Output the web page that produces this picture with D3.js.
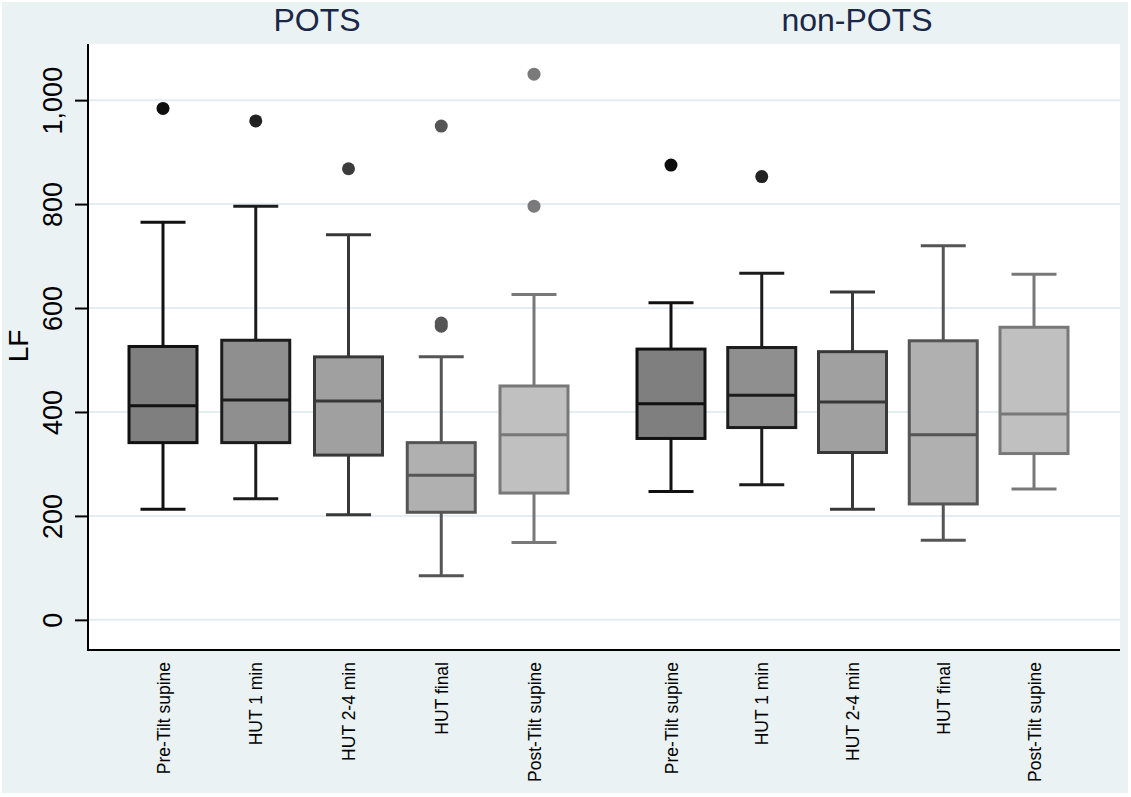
<!DOCTYPE html>
<html><head><meta charset="utf-8">
<script src="https://cdn.jsdelivr.net/npm/d3@7"></script>
<style>body{margin:0;background:#fff}svg{display:block}text{font-family:"Liberation Sans",Arial,sans-serif}</style>
</head><body><svg id="c" width="1131" height="797"></svg>
<script>
const groups = ["POTS", "non-POTS"];
const categories = ["Pre-Tilt supine", "HUT 1 min", "HUT 2-4 min", "HUT final", "Post-Tilt supine"];
// per group: [lower whisker, q1, median, q3, upper whisker]
const potsStats = [
  [213, 341, 412, 526, 765],
  [233, 341, 423, 538, 796],
  [202, 317, 421, 506, 741],
  [85, 207, 278, 341, 506],
  [149, 244, 356, 450, 626]
];
const nonPotsStats = [
  [247, 349, 416, 521, 610],
  [260, 370, 432, 524, 667],
  [213, 322, 419, 516, 631],
  [153, 223, 356, 537, 720],
  [252, 320, 396, 563, 665]
];
const potsOutliers = [[984], [960], [868], [950, 565, 571], [1050, 796]];
const nonPotsOutliers = [[875], [853], [], [], []];
const yTicks = [0, 200, 400, 600, 800, 1000];
const yLabel = "LF";

const fills = ["#7f7f7f", "#8f8f8f", "#a0a0a0", "#b0b0b0", "#c0c0c0"];
const strokes = ["#111111", "#1c1c1c", "#383838", "#555555", "#787878"];
const dotFill = ["#0d0d0d", "#222222", "#3c3c3c", "#555555", "#7a7a7a"];

const svg = d3.select("#c");
const L = 88, R = 1120, T = 44, B = 650;
svg.append("rect").attr("x", 2).attr("y", 2).attr("width", 1126).attr("height", 791).attr("fill", "#eaf2f3");
svg.append("rect").attr("x", L).attr("y", T).attr("width", R - L).attr("height", B - T).attr("fill", "#ffffff");

const y = d3.scaleLinear().domain([-58, 1108]).range([B, T]);
const panelRange = {"POTS": [163, 534], "non-POTS": [671, 1034]};
const titleX = {"POTS": 317, "non-POTS": 857};
const xs = {};
groups.forEach(g => xs[g] = d3.scalePoint().domain(categories).range(panelRange[g]));

// grid
svg.append("g").selectAll("line").data(yTicks).join("line")
  .attr("x1", L).attr("x2", R).attr("y1", d => y(d)).attr("y2", d => y(d))
  .attr("stroke", "#e4edef").attr("stroke-width", 2);

// axis
const yAxis = d3.axisLeft(y).tickValues(yTicks).tickFormat(d3.format(",")).tickSize(13).tickPadding(12);
const ag = svg.append("g").attr("transform", `translate(${L},0)`).call(yAxis);
ag.select(".domain").remove();
ag.selectAll(".tick line").attr("stroke", "#000").attr("stroke-width", 2);
ag.selectAll(".tick text").attr("font-size", 27).attr("fill", "#000")
  .attr("text-anchor", "middle").attr("x", 0).attr("y", 0).attr("dy", 0)
  .attr("transform", "translate(-26,0) rotate(-90)");
svg.append("line").attr("x1", L).attr("x2", L).attr("y1", T).attr("y2", B + 1).attr("stroke", "#000").attr("stroke-width", 2);
svg.append("line").attr("x1", L).attr("x2", R).attr("y1", B).attr("y2", B).attr("stroke", "#000").attr("stroke-width", 2);

svg.append("text").text(yLabel).attr("font-size", 28).attr("text-anchor", "middle")
  .attr("transform", `translate(28,346) rotate(-90)`);

// titles
groups.forEach(g => {
  svg.append("text").text(g).attr("x", titleX[g]).attr("y", 31).attr("text-anchor", "middle")
    .attr("font-size", 32).attr("fill", "#1a2848");
});

const boxW = 68, capW = 45;
const allStats = {"POTS": potsStats, "non-POTS": nonPotsStats};
const allOut = {"POTS": potsOutliers, "non-POTS": nonPotsOutliers};
groups.forEach(g => {
  const x = xs[g];
  categories.forEach((c, i) => {
    const [lo, q1, med, q3, hi] = allStats[g][i];
    const cx = x(c);
    const gg = svg.append("g").attr("stroke", strokes[i]).attr("stroke-width", 3);
    gg.append("line").attr("x1", cx).attr("x2", cx).attr("y1", y(hi)).attr("y2", y(q3));
    gg.append("line").attr("x1", cx).attr("x2", cx).attr("y1", y(q1)).attr("y2", y(lo));
    gg.append("line").attr("x1", cx - capW/2).attr("x2", cx + capW/2).attr("y1", y(hi)).attr("y2", y(hi));
    gg.append("line").attr("x1", cx - capW/2).attr("x2", cx + capW/2).attr("y1", y(lo)).attr("y2", y(lo));
    gg.append("rect").attr("x", cx - boxW/2).attr("width", boxW).attr("y", y(q3)).attr("height", y(q1) - y(q3)).attr("fill", fills[i]);
    gg.append("line").attr("x1", cx - boxW/2).attr("x2", cx + boxW/2).attr("y1", y(med)).attr("y2", y(med));
    svg.append("g").selectAll("circle").data(allOut[g][i]).join("circle")
      .attr("cx", cx).attr("cy", d => y(d)).attr("r", 6.5).attr("fill", dotFill[i]);
    svg.append("text").text(c).attr("font-size", 17.5).attr("fill", "#000").attr("text-anchor", "end")
      .attr("transform", `translate(${cx + 6.5},662) rotate(-90)`);
  });
});
</script></body></html>
